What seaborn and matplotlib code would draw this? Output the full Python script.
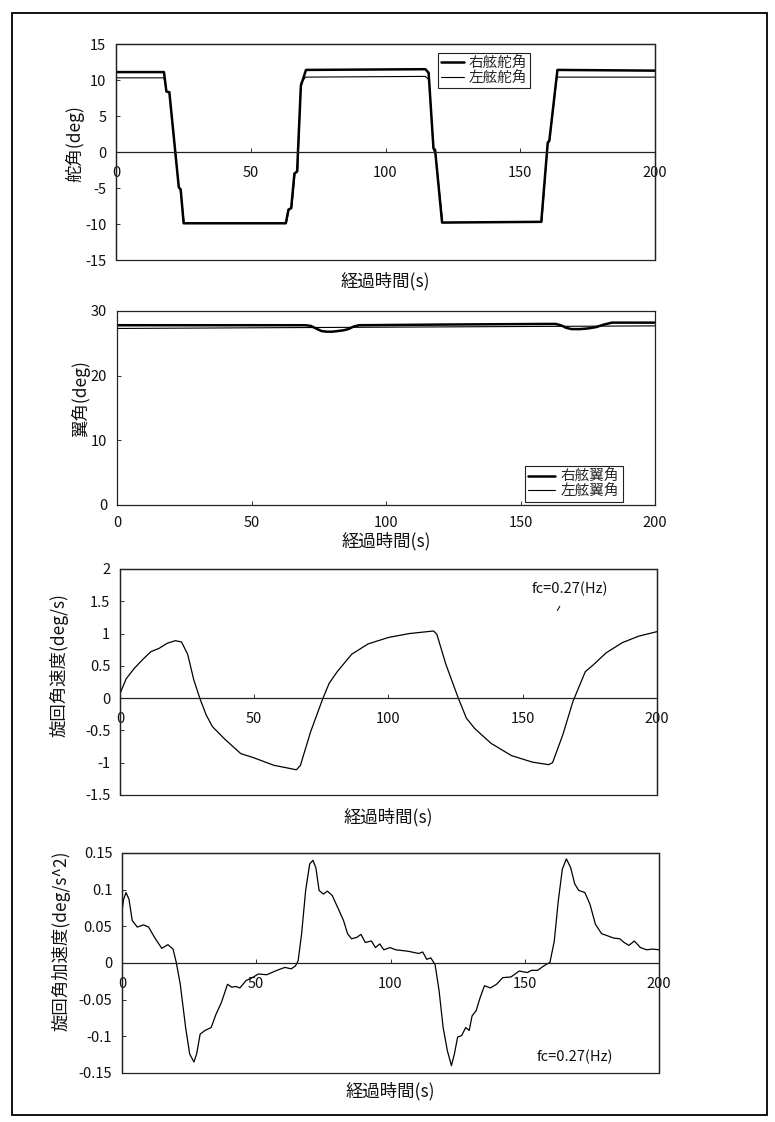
import matplotlib
matplotlib.use("Agg")
import matplotlib.pyplot as plt
import seaborn as sns
import pandas as pd
from matplotlib.patches import Rectangle

# ---------------- data ----------------
x_ticks = [0, 50, 100, 150, 200]
x_label = "経過時間(s)"

# Panel 1: rudder angles
rud_labels = ["右舷舵角", "左舷舵角"]
rud_r_t = [0, 17.8, 18.7, 19.8, 22.0, 23.3, 24.0, 25.1, 63.0, 64.0, 65.0, 66.2, 67.2,
           68.6, 70.5, 114.8, 116.0, 117.8, 118.4, 121.0, 157.8, 160.2, 160.8, 163.8, 200]
rud_r_v = [11.1, 11.1, 8.4, 8.3, 0.0, -4.9, -5.2, -9.9, -9.9, -8.0, -7.8, -3.0, -2.7,
           9.2, 11.4, 11.5, 11.0, 0.5, 0.3, -9.8, -9.7, 1.3, 1.6, 11.4, 11.3]
rud_l_t = [0, 17.8, 18.8, 19.8, 22.0, 23.3, 24.0, 25.3, 63.2, 64.2, 65.2, 66.4, 67.4,
           68.6, 70.3, 114.8, 116.2, 117.8, 118.6, 121.2, 158.0, 160.2, 160.8, 163.6, 200]
rud_l_v = [10.3, 10.3, 8.4, 8.3, 0.0, -4.9, -5.4, -9.9, -9.9, -8.0, -7.8, -3.0, -2.7,
           9.6, 10.4, 10.5, 10.0, 0.3, -0.4, -9.8, -9.7, 1.2, 1.4, 10.4, 10.4]

# Panel 2: wing angles
wing_labels = ["右舷翼角", "左舷翼角"]
wing_r_t = [0, 70, 72, 74, 76, 78, 80, 82, 84, 86, 88, 90, 120, 160, 163, 165, 167,
            169, 172, 175, 178, 181, 184, 200]
wing_r_v = [27.8, 27.8, 27.7, 27.3, 26.9, 26.8, 26.8, 26.9, 27.0, 27.2, 27.6, 27.8, 27.9,
            28.0, 28.0, 27.8, 27.4, 27.2, 27.2, 27.3, 27.5, 27.9, 28.2, 28.2]
wing_l_t = [0, 100, 200]
wing_l_v = [27.3, 27.5, 27.7]

# Panel 3: yaw rate
rate_t = [0, 2.3, 5.3, 8.5, 11.5, 14.5, 17.6, 20.6, 22.9, 25.2, 27.5, 29.8, 32.1, 34.4,
          38.9, 45, 49.6, 57.3, 63.4, 65.7, 67.2, 71, 75.6, 77.9, 80.9, 86.3, 92.4, 100,
          107.7, 114.5, 116.8, 118, 121.4, 126, 129, 132.1, 138.2, 145.8, 153.5, 159.6,
          161.1, 164.9, 168.7, 173.3, 176.4, 181, 187.1, 193.2, 200]
rate_v = [0.07, 0.30, 0.46, 0.60, 0.72, 0.77, 0.85, 0.89, 0.87, 0.68, 0.28, -0.01, -0.26,
          -0.44, -0.63, -0.86, -0.92, -1.04, -1.09, -1.11, -1.04, -0.52, 0.0, 0.23, 0.41,
          0.68, 0.84, 0.94, 1.0, 1.03, 1.04, 0.99, 0.52, 0.0, -0.31, -0.47, -0.70, -0.89,
          -0.99, -1.03, -1.0, -0.57, -0.05, 0.41, 0.52, 0.70, 0.86, 0.96, 1.03]

# Panel 4: yaw acceleration
acc_t = [0, 0.6, 1.5, 2.6, 3.8, 5.7, 8, 9.9, 12.1, 14.8, 17.1, 19, 20.2, 21.7, 23.7, 25.2,
         26.8, 27.8, 29.1, 30.9, 33.2, 35, 37, 39.3, 40.9, 42.4, 43.9, 46.2, 48.5, 50.8,
         53.9, 57.7, 60.7, 63, 64.6, 65.6, 66.9, 68.4, 69.9, 71.1, 72.2, 73.4, 75, 76.5,
         78.3, 80.3, 82.5, 84, 85.5, 87.5, 89, 90.6, 92.9, 94.4, 96, 97.5, 99.8, 102,
         106.6, 110.5, 112, 113.5, 115, 116.6, 118.1, 119.6, 121.2, 122.7, 123.8, 125,
         126.5, 128, 129.3, 130.4, 131.9, 133.4, 135, 137.2, 139.5, 141.8, 144.9, 147.9,
         151, 152.5, 154.8, 157.1, 159.4, 161, 162.5, 164, 165.5, 167.1, 168.6, 170.1,
         172.4, 174.3, 176.3, 178.6, 180.9, 183.1, 185.4, 187, 188.8, 190.8, 193.1,
         195.4, 197.7, 200]
acc_v = [0.071, 0.087, 0.096, 0.087, 0.058, 0.049, 0.052, 0.049, 0.035, 0.020, 0.025,
         0.019, 0.001, -0.029, -0.088, -0.124, -0.135, -0.124, -0.097, -0.092, -0.088,
         -0.070, -0.054, -0.029, -0.033, -0.032, -0.034, -0.024, -0.020, -0.015, -0.016,
         -0.010, -0.006, -0.008, -0.004, 0.003, 0.040, 0.099, 0.135, 0.140, 0.130, 0.099,
         0.094, 0.098, 0.092, 0.076, 0.058, 0.040, 0.033, 0.035, 0.039, 0.028, 0.030,
         0.021, 0.026, 0.018, 0.021, 0.018, 0.016, 0.013, 0.015, 0.005, 0.007, -0.002,
         -0.038, -0.088, -0.120, -0.140, -0.124, -0.101, -0.099, -0.088, -0.092, -0.072,
         -0.065, -0.047, -0.031, -0.034, -0.029, -0.020, -0.019, -0.011, -0.013, -0.010,
         -0.010, -0.004, 0.001, 0.030, 0.085, 0.128, 0.142, 0.130, 0.108, 0.099, 0.096,
         0.080, 0.053, 0.040, 0.037, 0.034, 0.033, 0.028, 0.024, 0.030, 0.021, 0.018,
         0.019, 0.018]

fc_text = "fc=0.27(Hz)"

# ---------------- style ----------------
sns.set_style("white")
plt.rcParams["font.family"] = ["Noto Sans CJK JP", "DejaVu Sans"]
plt.rcParams["axes.unicode_minus"] = False

W, H = 775, 1122
fig = plt.figure(figsize=(W / 100, H / 100), dpi=100)
FRAME = "#222222"


def add_ax(l, r, t, b):
    return fig.add_axes([l / W, 1 - b / H, (r - l) / W, (b - t) / H])


def fmt(v):
    return "%g" % v


def style(ax, ylim, yticks, ylabel, zero_axis, xlab_y, ylab_x, ylab_y, xpad):
    ax.set_xlim(0, 200)
    ax.set_ylim(*ylim)
    ax.set_yticks(yticks)
    ax.set_yticklabels([fmt(v) for v in yticks])
    ax.set_xticks(x_ticks)
    ax.set_xticklabels([fmt(v) for v in x_ticks])
    for s in ax.spines.values():
        s.set_visible(True)
        s.set_color(FRAME)
        s.set_linewidth(0.9)
    if zero_axis:
        ax.spines["bottom"].set_position(("data", 0))
        ax.add_patch(Rectangle((0, 0), 1, 1, transform=ax.transAxes, fill=False,
                               ec=FRAME, lw=0.9, clip_on=False))
    ax.tick_params(axis="both", direction="in", length=3, width=0.6,
                   labelsize=10.5, colors="#111111")
    ax.tick_params(axis="y", pad=7, left=True)
    ax.tick_params(axis="x", pad=xpad, bottom=True)
    ax.set_xlabel(x_label, fontsize=12.5, color="#111111", va="top")
    ax.xaxis.set_label_coords(0.5, xlab_y)
    ax.set_ylabel(ylabel, fontsize=12.5, color="#111111")
    ax.yaxis.set_label_coords(ylab_x, ylab_y)
    ax.grid(False)


# Panel 1
ax1 = add_ax(116, 655, 44, 260)
sns.lineplot(x=rud_r_t, y=rud_r_v, ax=ax1, color="black", lw=1.8, label=rud_labels[0],
             estimator=None, sort=False)
sns.lineplot(x=rud_l_t, y=rud_l_v, ax=ax1, color="black", lw=0.8, label=rud_labels[1],
             estimator=None, sort=False)
style(ax1, (-15, 15), [-15, -10, -5, 0, 5, 10, 15], "舵角(deg)", True,
      -0.056, -0.059, 0.537, 10)
leg1 = ax1.legend(loc="upper left", bbox_to_anchor=(0.597, 0.958), fontsize=10.5,
                  frameon=True, fancybox=False, edgecolor=FRAME, framealpha=1,
                  handlelength=1.6, handletextpad=0.3, labelspacing=0.05,
                  borderpad=0.2, borderaxespad=0)
leg1.get_frame().set_linewidth(0.8)

# Panel 2
ax2 = add_ax(117, 655, 311, 505)
sns.lineplot(x=wing_r_t, y=wing_r_v, ax=ax2, color="black", lw=1.8, label=wing_labels[0],
             estimator=None, sort=False)
sns.lineplot(x=wing_l_t, y=wing_l_v, ax=ax2, color="black", lw=0.8, label=wing_labels[1],
             estimator=None, sort=False)
style(ax2, (0, 30), [0, 10, 20, 30], "翼角(deg)", False,
      -0.14, -0.050, 0.55, 8)
leg2 = ax2.legend(loc="lower left", bbox_to_anchor=(0.758, 0.015), fontsize=10.5,
                  frameon=True, fancybox=False, edgecolor=FRAME, framealpha=1,
                  handlelength=1.8, handletextpad=0.4, labelspacing=0.05,
                  borderpad=0.25, borderaxespad=0)
leg2.get_frame().set_linewidth(0.8)

# Panel 3
ax3 = add_ax(120, 657, 569, 795)
sns.lineplot(x=rate_t, y=rate_v, ax=ax3, color="black", lw=0.9, estimator=None, sort=False)
style(ax3, (-1.5, 2), [-1.5, -1, -0.5, 0, 0.5, 1, 1.5, 2], "旋回角速度(deg/s)", True,
      -0.058, -0.095, 0.575, 10)
ax3.text(153.4, 1.69, fc_text, fontsize=10.5, ha="left", va="center", color="#111111")
ax3.annotate("", xy=(162.4, 1.32), xytext=(164.3, 1.46),
             arrowprops=dict(arrowstyle="-", lw=0.8, color="#111111"))

# Panel 4
ax4 = add_ax(122, 659, 853, 1073)
sns.lineplot(x=acc_t, y=acc_v, ax=ax4, color="black", lw=0.9, estimator=None, sort=False)
style(ax4, (-0.15, 0.15), [-0.15, -0.1, -0.05, 0, 0.05, 0.1, 0.15],
      "旋回角加速度(deg/s^2)", True, -0.041, -0.095, 0.60, 10)
ax4.text(154.2, -0.128, fc_text, fontsize=10.5, ha="left", va="center", color="#111111")

# Page border
fig.patches.append(Rectangle((12 / W, 1 - 1115 / H), (767 - 12) / W, (1115 - 13) / H,
                             transform=fig.transFigure, fill=False, ec="black", lw=1.3))

fig.savefig("out.png", dpi=100, facecolor="white")
